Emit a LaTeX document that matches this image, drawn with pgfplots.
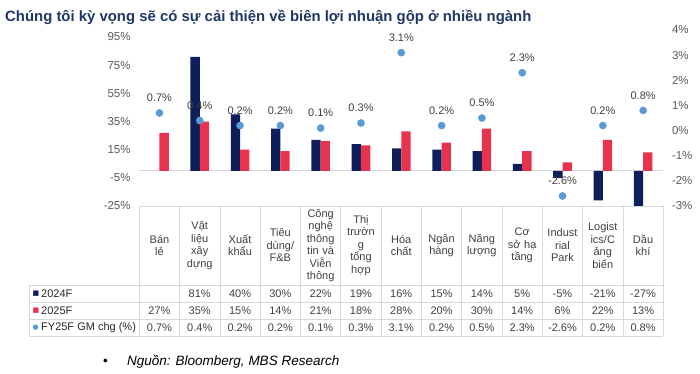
\documentclass[border=0pt]{standalone}
\usepackage{pgfplots}
\pgfplotsset{compat=1.18}
\usepackage{fontspec}
\setmainfont{Liberation Sans}
\newfontfamily\dejavu{DejaVu Sans}
\definecolor{navy}{HTML}{0C1F5B}
\definecolor{crim}{HTML}{E8334F}
\definecolor{dotc}{HTML}{5B9BD5}
\definecolor{ttl}{HTML}{1F3864}
\definecolor{txt}{HTML}{404040}
\definecolor{tickc}{HTML}{595959}
\definecolor{grd}{HTML}{D9D9D9}
\pgfplotstableread{
x y
1 81
2 40
3 30
4 22
5 19
6 16
7 15
8 14
9 5
10 -5
11 -21
12 -27
}\dataA
\pgfplotstableread{
x y
0 27
1 35
2 15
3 14
4 21
5 18
6 28
7 20
8 30
9 14
10 6
11 22
12 13
}\dataB
\pgfplotstableread{
x y
0 0.7
1 0.4
2 0.2
3 0.2
4 0.1
5 0.3
6 3.1
7 0.2
8 0.5
9 2.3
10 -2.6
11 0.2
12 0.8
}\dataC
\begin{document}
\begin{tikzpicture}[x=1pt,y=1pt]
\path[use as bounding box] (0pt,0pt) rectangle (700pt,373pt);
\begin{axis}[at={(139.3pt,167pt)}, anchor=south west, width=524pt, height=176pt, scale only axis,
  xmin=-0.5, xmax=12.5, ymin=-25, ymax=100,
  axis line style={draw=none}, xtick=\empty,
  ytick={-25,-5,15,35,55,75,95}, major tick length=0pt,
  /pgf/number format/assume math mode=true,
  yticklabel={\pgfmathprintnumber{\tick}\%},
  yticklabel style={font=\fontsize{11.5}{12}\selectfont, color=tickc, inner sep=0pt, xshift=-8.5pt},
  extra y ticks={0}, extra y tick labels={},
  extra y tick style={grid=major, grid style={color=grd, line width=0.8pt}},
  ]
\addplot[ybar, bar width=9.3pt, bar shift=-4.65pt, fill=navy, draw=none] table {\dataA};
\addplot[ybar, bar width=9.3pt, bar shift=4.65pt, fill=crim, draw=none] table {\dataB};
\end{axis}
\begin{axis}[at={(139.3pt,167pt)}, anchor=south west, width=524pt, height=176pt, scale only axis,
  xmin=-0.5, xmax=12.5, ymin=-3, ymax=4,
  axis line style={draw=none}, xtick=\empty,
  ytick={-3,...,4}, major tick length=0pt, yticklabel pos=right,
  /pgf/number format/assume math mode=true,
  yticklabel={\pgfmathprintnumber{\tick}\%},
  yticklabel style={font=\fontsize{11.5}{12}\selectfont, color=tickc, inner sep=0pt, xshift=8.5pt},
  clip=false,
  ]
\addplot[only marks, mark=*, mark size=3.6pt, color=dotc,
  nodes near coords={\pgfmathprintnumber[fixed,precision=1,fixed zerofill,assume math mode=true]{\pgfplotspointmeta}\%},
  every node near coord/.style={font=\fontsize{11}{12}\selectfont, color=txt, anchor=center, yshift=15pt}] table {\dataC};
\end{axis}
% title
\node[anchor=base west, inner sep=0pt, font=\fontsize{14.9}{17}\bfseries, color=ttl] at (5pt,351.5pt) {Chúng tôi kỳ vọng sẽ có sự cải thiện về biên lợi nhuận gộp ở nhiều ngành};
\begin{scope}[shift={(0pt,373pt)}, y=-1pt]
  \draw[grd, line width=0.8pt] (139.3,206) -- (663.3,206);
  \foreach \yy in {285,302,319,336} \draw[grd, line width=0.8pt] (29,\yy) -- (663.3,\yy);
  \draw[grd, line width=0.8pt] (29,285) -- (29,336);
  \foreach \k in {0,...,13} \draw[grd, line width=0.8pt] ({139.3+40.3*\k},206) -- ({139.3+40.3*\k},336);
  \tikzset{hd/.style={align=center, inner sep=0pt, text width=40pt, font=\fontsize{11}{12.5}\selectfont, color=txt}}
  \node[hd] at (159.45,245.5) {Bán\\lẻ};
  \node[hd] at (199.75,245.5) {Vật\\liệu\\xây\\dựng};
  \node[hd] at (240.05,245.5) {Xuất\\khẩu};
  \node[hd] at (280.35,245.5) {Tiêu\\dùng/\\F\&B};
  \node[hd] at (320.65,245.5) {Công\\nghệ\\thông\\tin và\\Viễn\\thông};
  \node[hd] at (360.95,245.5) {Thị\\trườn\\g\\tổng\\hợp};
  \node[hd] at (401.25,245.5) {Hóa\\chất};
  \node[hd] at (441.55,245.5) {Ngân\\hàng};
  \node[hd] at (481.85,245.5) {Năng\\lượng};
  \node[hd] at (522.15,245.5) {Cơ\\sở hạ\\tầng};
  \node[hd] at (562.45,245.5) {Indust\\rial\\Park};
  \node[hd] at (602.75,245.5) {Logist\\ics/C\\ảng\\biển};
  \node[hd] at (643.05,245.5) {Dầu\\khí};
  \tikzset{vl/.style={inner sep=0pt, font=\fontsize{11}{12}\selectfont, color=txt}}
  \foreach \k/\v in {1/81,2/40,3/30,4/22,5/19,6/16,7/15,8/14,9/5,10/-5,11/-21,12/-27}
    \node[vl] at ({159.45+40.3*\k},293.5) {\v\%};
  \foreach \k/\v in {0/27,1/35,2/15,3/14,4/21,5/18,6/28,7/20,8/30,9/14,10/6,11/22,12/13}
    \node[vl] at ({159.45+40.3*\k},310.5) {\v\%};
  \foreach \k/\v in {0/0.7,1/0.4,2/0.2,3/0.2,4/0.1,5/0.3,6/3.1,7/0.2,8/0.5,9/2.3,10/-2.6,11/0.2,12/0.8}
    \node[vl] at ({159.45+40.3*\k},327.5) {\v\%};
  \node[vl, anchor=west, text=navy] at (32.5,293.5) {\dejavu\fontsize{7}{7}\selectfont ■};
  \node[vl, anchor=west, text=crim] at (32.5,310.5) {\dejavu\fontsize{7}{7}\selectfont ■};
  \node[vl, anchor=west, text=dotc] at (32.5,327.5) {\dejavu\fontsize{7}{7}\selectfont ●};
  \node[vl, anchor=west, color=black!85] at (41,293.5) {2024F};
  \node[vl, anchor=west, color=black!85] at (41,310.5) {2025F};
  \node[vl, anchor=west, color=black!85] at (41,327.5) {FY25F GM chg (\%)};
  \node[anchor=base west, inner sep=0pt, font=\fontsize{13.5}{15}\selectfont] at (103,365) {•};
  \node[anchor=base west, inner sep=0pt, font=\fontsize{13.5}{15}\itshape] at (127,365) {Nguồn: Bloomberg, MBS Research};
\end{scope}
\end{tikzpicture}
\end{document}
